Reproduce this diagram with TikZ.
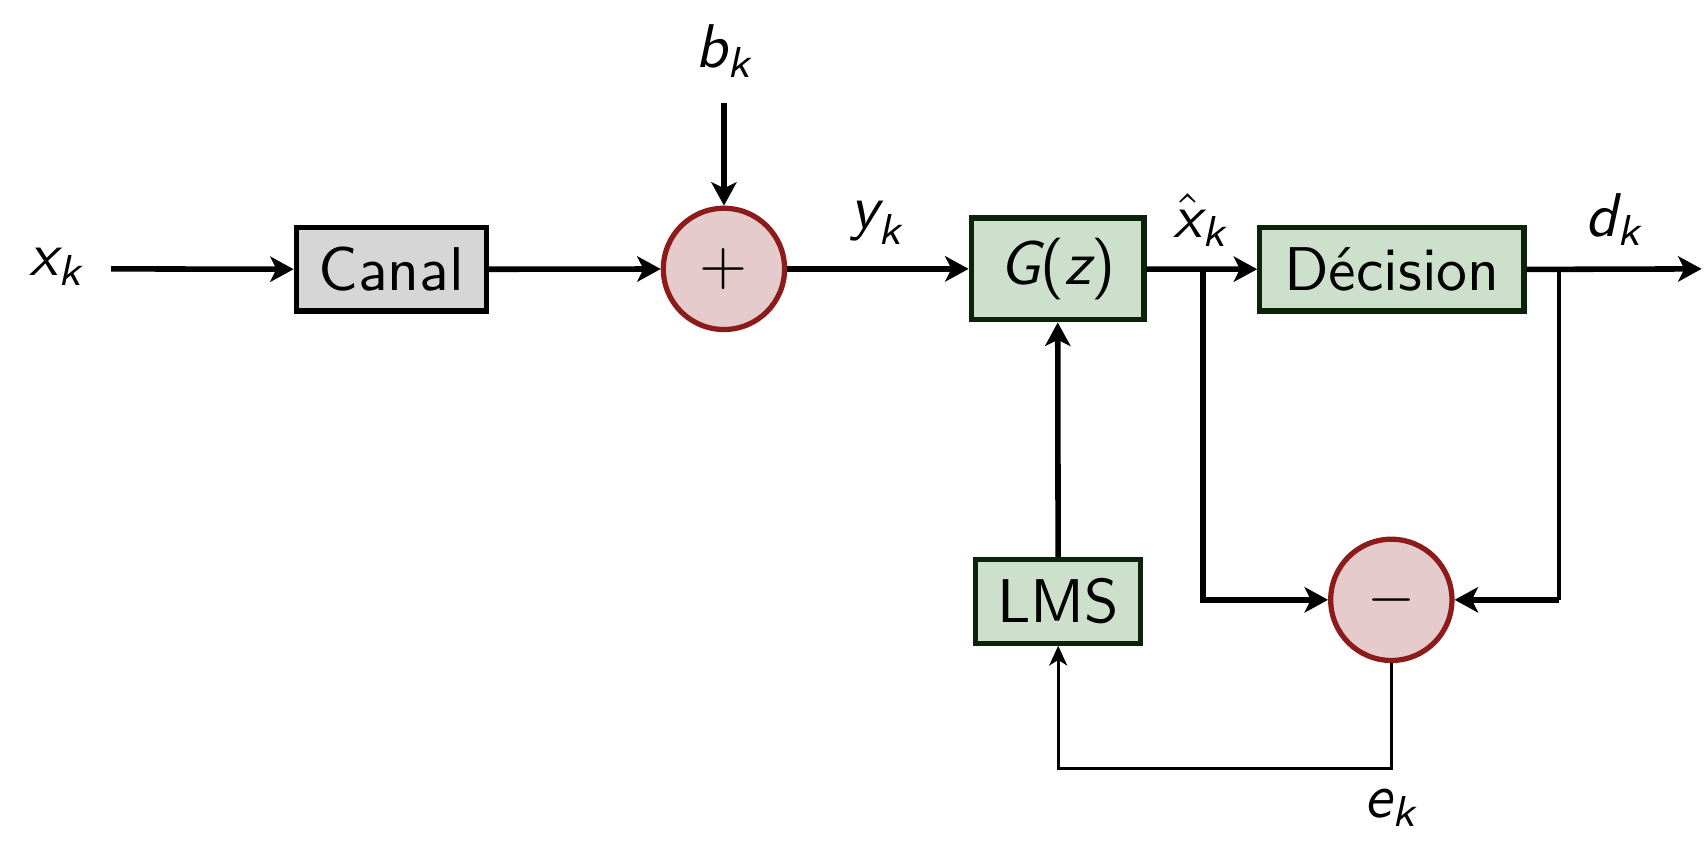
\documentclass[tikz,border=0pt]{standalone}
\usepackage{amsmath}
\usetikzlibrary{arrows.meta}
\definecolor{grayfill}{HTML}{D6D6D6}
\definecolor{greenfill}{HTML}{CDE0CB}
\definecolor{greenline}{HTML}{0B220B}
\definecolor{redfill}{HTML}{E5CBCB}
\definecolor{redline}{HTML}{8E1B1B}
\newcommand{\vk}[1]{$\textsf{\itshape #1}_{\textsf{\itshape k}}$}
\newcommand{\vhk}{$\hat{\textsf{\itshape x}}_{\textsf{\itshape k}}$}
\begin{document}
\begin{tikzpicture}[x=0.0062cm,y=-0.0062cm, font=\sffamily,
 blk/.style={draw, line width=0.85pt, inner sep=0pt, minimum height=0.474cm},
 grayblk/.style={blk, fill=grayfill, draw=black},
 greenblk/.style={blk, fill=greenfill, draw=greenline},
 sumnode/.style={circle, draw=redline, fill=redfill, line width=0.85pt, minimum size=0.69cm, inner sep=0pt},
 conn/.style={line width=0.9pt, -{Stealth[length=3.8pt,width=4.1pt,inset=1pt]}},
 thinconn/.style={line width=0.5pt, -{Stealth[length=3.2pt,width=2.9pt,inset=0.9pt]}},
 thinline/.style={line width=0.5pt},
 lbl/.style={inner sep=0pt}]
\useasboundingbox (0,0) rectangle (1568,785);
% blocks
\node[grayblk, minimum width=1.082cm] (canal) at (359.5,247.5) {Canal};
\node[sumnode] (plus) at (665,247) {$+$};
\node[greenblk, minimum width=0.983cm, minimum height=0.58cm] (G) at (971.5,247) {{\itshape G}({\itshape z})};
\node[greenblk, minimum width=1.503cm] (dec) at (1278.5,247.5) {Décision};
\node[greenblk, minimum width=0.939cm] (lms) at (972,552.5) {LMS};
\node[sumnode] (minus) at (1278,551) {$-$};
% labels
\node[lbl] (xk) at (52,245) {\vk{x}};
\node[lbl] (bk) at (665,47) {\vk{b}};
\node[lbl] (yk) at (806,205) {\vk{y}};
\node[lbl] (xhk) at (1103,202) {\vhk};
\node[lbl] (dk) at (1483,202) {\vk{d}};
\node[lbl] (ek) at (1278,742) {\vk{e}};
% coordinates
\coordinate (xin) at (102,247);
\coordinate (bin) at (665,95);
\coordinate (dout) at (1563,247);
\coordinate (br1) at (1105,247);
\coordinate (br2) at (1432,247);
\coordinate (c2) at (1432,551);
\coordinate (c3) at (1278,706);
% connectors
\draw[conn] (xin) -- (canal);
\draw[conn] (canal) -- (plus);
\draw[conn] (bin) -- (plus);
\draw[conn] (plus) -- (G);
\draw[conn] (G) -- (dec);
\draw[conn] (dec.east) -- (dout);
\draw[conn] (lms) -- (G);
\draw[conn] (br1) |- (minus);
\draw[thinline] (br2) -- (c2);
\draw[conn] (c2) -- (minus);
\draw[thinconn] (minus.south) -- (c3) -| (lms.south);
\end{tikzpicture}
\end{document}
